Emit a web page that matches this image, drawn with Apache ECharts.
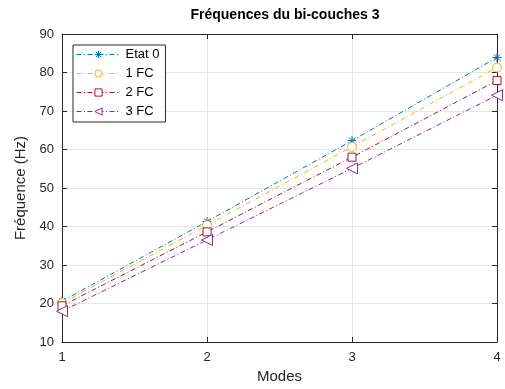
<!DOCTYPE html>
<html><head><meta charset="utf-8">
<script src="https://cdn.jsdelivr.net/npm/echarts@6/dist/echarts.min.js"></script>
<style>html,body{margin:0;padding:0;background:#fff}#c{width:505px;height:389px}</style>
</head><body><div id="c"></div>
<script>
const modes = [1, 2, 3, 4];
const etat0 = [20.6, 41.3, 62.3, 83.9];
const fc1 = [20.1, 40.3, 60.7, 81.3];
const fc2 = [19.4, 38.6, 58.0, 77.9];
const fc3 = [18.0, 36.5, 55.1, 74.1];
const yTicks = [10, 20, 30, 40, 50, 60, 70, 80, 90];

const FONT = '"Liberation Sans", Arial, sans-serif';
const star = 'path://M0,-10L0,10M-10,0L10,0M-7,-7L7,7M-7,7L7,-7';
const triLeft = 'path://M-8,0L8,-9L8,9Z';

function mk(name, vals, color, symbol, size) {
  return {
    name, type: 'line',
    data: modes.map((m, i) => [m, vals[i]]),
    symbol, symbolSize: size,
    showSymbol: true,
    lineStyle: { color, width: 1, type: [5, 2.5, 1, 2.5] },
    itemStyle: { color: symbol === star ? color : '#fff', borderColor: color, borderWidth: 1 },
    emphasis: { disabled: true },
    animation: false
  };
}

const chart = echarts.init(document.getElementById('c'), null, { renderer: 'canvas' });
const axisLine = { show: true, lineStyle: { color: '#262626', width: 1 } };
chart.setOption({
  backgroundColor: '#fff',
  animation: false,
  title: {
    text: 'Fréquences du bi-couches 3', left: 280, top: 3, textAlign: 'center',
    textStyle: { fontFamily: FONT, fontSize: 14, fontWeight: 'bold', color: '#000' }
  },
  legend: {
    left: 73, top: 45, orient: 'vertical', itemGap: 4, itemWidth: 44, itemHeight: 9,
    padding: [2, 6, 3, 3], borderColor: '#262626', borderWidth: 1, backgroundColor: '#fff',
    lineStyle: { width: 1 },
    itemStyle: { borderWidth: 1 },
    textStyle: { fontFamily: FONT, fontSize: 13, color: '#000', lineHeight: 15 },
    data: ['Etat 0', '1 FC', '2 FC', '3 FC']
  },
  grid: { left: 62, right: 8, top: 34, bottom: 46, containLabel: false },
  xAxis: [{
    type: 'value', min: 1, max: 4, interval: 1,
    name: 'Modes', nameLocation: 'middle', nameGap: 27,
    nameTextStyle: { fontFamily: FONT, fontSize: 15, color: '#262626' },
    axisLine, axisTick: { show: true, inside: true, length: 5, lineStyle: { color: '#262626' } },
    axisLabel: { fontFamily: FONT, fontSize: 13, color: '#262626', margin: 9 },
    splitLine: { show: true, lineStyle: { color: '#e6e6e6', width: 1 } }
  }, {
    type: 'value', min: 1, max: 4, interval: 1, position: 'top',
    axisLine, axisTick: { show: true, inside: true, length: 5, lineStyle: { color: '#262626' } },
    axisLabel: { show: false }, splitLine: { show: false }
  }],
  yAxis: [{
    type: 'value', min: 10, max: 90, interval: 10,
    name: 'Fréquence (Hz)', nameLocation: 'middle', nameGap: 33,
    nameTextStyle: { fontFamily: FONT, fontSize: 15, color: '#262626' },
    axisLine, axisTick: { show: true, inside: true, length: 5, lineStyle: { color: '#262626' } },
    axisLabel: { fontFamily: FONT, fontSize: 13, color: '#262626', margin: 8,
      formatter: v => yTicks.includes(v) ? String(v) : '' },
    splitLine: { show: true, lineStyle: { color: '#e6e6e6', width: 1 } }
  }, {
    type: 'value', min: 10, max: 90, interval: 10, position: 'right',
    axisLine, axisTick: { show: true, inside: true, length: 5, lineStyle: { color: '#262626' } },
    axisLabel: { show: false }, splitLine: { show: false }
  }],
  series: [
    mk('Etat 0', etat0, '#0072BD', star, 9),
    mk('1 FC', fc1, '#EDB120', 'circle', 9),
    mk('2 FC', fc2, '#A2142F', 'rect', 8),
    mk('3 FC', fc3, '#7E2F8E', triLeft, 11)
  ]
});
</script></body></html>
